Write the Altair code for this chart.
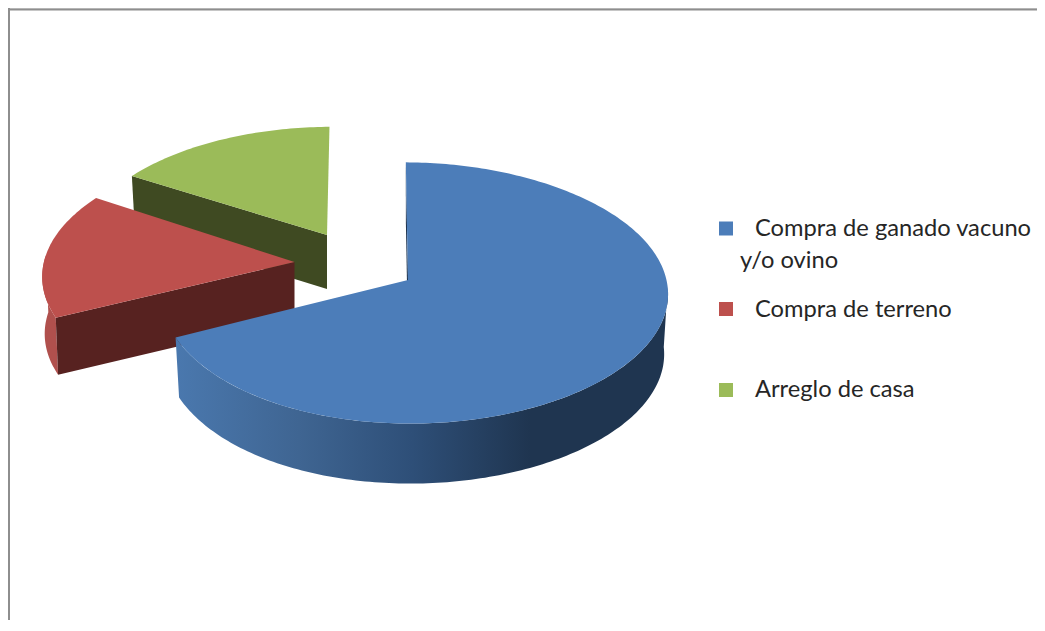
import altair as alt
import numpy as np
import pandas as pd

# ---- chart values ----
categories = ["Compra de ganado vacuno y/o ovino", "Compra de terreno", "Arreglo de casa"]
shares = [68, 16, 16]
top_colors = ["#4C7DB9", "#BD504D", "#9BBB59"]
cut_colors = ["#1F3550", "#572220", "#3F4A22"]

# ---- legend text ----
legend_lines = ["Compra de ganado vacuno", "y/o ovino", "Compra de terreno", "Arreglo de casa"]

W, H = 1029, 612
K = 0.0993
START = -1.0

# per-slice drawing set-up (page pixels): apex, radii, thickness, bottom-disc scale, shear
SETUP = [
    dict(ax=408, ay=280, A0=252.5, A1=6.5, B=129.3, depth=60, s=0.985, sk=2, sy=2.5),
    dict(ax=294.5, ay=262, A0=250, A1=0, B=125, depth=57, s=0.99, sk=9, sy=2.3),
    dict(ax=327, ay=235, A0=244.7, A1=0, B=119, depth=54, s=0.985, sk=7, sy=0),
]


def rim(t, c, bottom=False):
    r = np.radians(t)
    u, v = np.sin(r), np.cos(r)
    d = 1 + K * v
    a = c["A0"] + c["A1"] * u
    sc = c["s"] if bottom else 1.0
    x = c["ax"] + sc * a * u / d + c["sk"] * v / d
    y = c["ay"] - c["B"] * v / d + c["sy"] * u + (c["depth"] if bottom else 0)
    return [float(x - 8), float(y - 8)]


def apex(c, bottom=False):
    return [c["ax"] - 8.0, c["ay"] - 8.0 + (c["depth"] if bottom else 0)]


def arc(t0, t1, c, bottom=False):
    n = max(2, int(abs(t1 - t0)) + 1)
    return [rim(t, c, bottom) for t in np.linspace(t0, t1, n)]


def poly(points):
    ring = points + [points[0]]
    return {"type": "Feature", "geometry": {"type": "Polygon", "coordinates": [ring]}, "properties": {}}


PROJ = alt.Projection(type="identity", scale=1, translate=[0, 0])


def piece(points, fill):
    return alt.Chart(alt.Data(values=[poly(points)])).mark_geoshape(
        fill=fill, stroke=None, strokeWidth=0
    ).project(**PROJ.to_dict())


edges = np.cumsum([0] + shares) / sum(shares) * 360 + START
blue, red, green = SETUP
b0, b1 = edges[0], edges[1]
r0, r1 = edges[1], edges[2]
g0, g1 = edges[2], edges[3]

blue_wall = alt.Gradient(
    gradient="linear", x1=0, x2=1, y1=0, y2=0,
    stops=[
        alt.GradientStop(color="#4A78AE", offset=0),
        alt.GradientStop(color="#3F6592", offset=0.25),
        alt.GradientStop(color="#2E4F78", offset=0.48),
        alt.GradientStop(color="#1F3550", offset=0.72),
        alt.GradientStop(color="#1F3550", offset=1),
    ],
)

layers = [
    # green slice
    piece([rim(g0, green), apex(green), apex(green, True), rim(g0, green, True)], cut_colors[2]),
    piece([apex(green)] + arc(g0, g1, green), top_colors[2]),
    # red slice
    piece(arc(r0, 272, red) + arc(272, r0, red, True), "#B0504D"),
    piece([rim(r0, red), apex(red), apex(red, True), rim(r0, red, True)], cut_colors[1]),
    piece([apex(red)] + arc(r0, r1, red), top_colors[1]),
    # blue slice
    piece([rim(b0, blue), apex(blue), apex(blue, True), rim(b0, blue, True)], cut_colors[0]),
    piece(arc(92, b1, blue) + arc(b1, 92, blue, True), blue_wall),
    piece([apex(blue)] + arc(b0, b1, blue), top_colors[0]),
]

# frame
frame_color = "#8E8E8E"
frame_top = alt.Chart(pd.DataFrame({"a": [0]})).mark_rule(color=frame_color, strokeWidth=2).encode(
    x=alt.value(0), x2=alt.value(W), y=alt.value(1.5)
)
frame_left = alt.Chart(pd.DataFrame({"a": [0]})).mark_rule(color=frame_color, strokeWidth=2).encode(
    x=alt.value(1), y=alt.value(0), y2=alt.value(H)
)


def square(color, y):
    return alt.Chart(pd.DataFrame({"a": [0]})).mark_square(size=196, color=color, opacity=1, filled=True).encode(
        x=alt.value(726 - 8), y=alt.value(y - 8)
    )


def label(text, x, y):
    return alt.Chart(pd.DataFrame({"t": [text]})).mark_text(
        font="Lato", fontSize=23.7, color="#262626", align="left", baseline="alphabetic"
    ).encode(text="t:N", x=alt.value(x - 8), y=alt.value(y - 8))


legend = [
    square(top_colors[0], 228.5),
    square(top_colors[1], 309),
    square(top_colors[2], 390),
    label(legend_lines[0], 755, 236),
    label(legend_lines[1], 740, 268),
    label(legend_lines[2], 755, 317),
    label(legend_lines[3], 755, 397),
]

chart = alt.layer(*layers, frame_top, frame_left, *legend).properties(
    width=W, height=H, padding=0, autosize=alt.AutoSizeParams(type="none")
).configure_view(stroke=None).configure(background="white")

chart.save("out.html", embed_options={"renderer": "svg", "actions": False})
